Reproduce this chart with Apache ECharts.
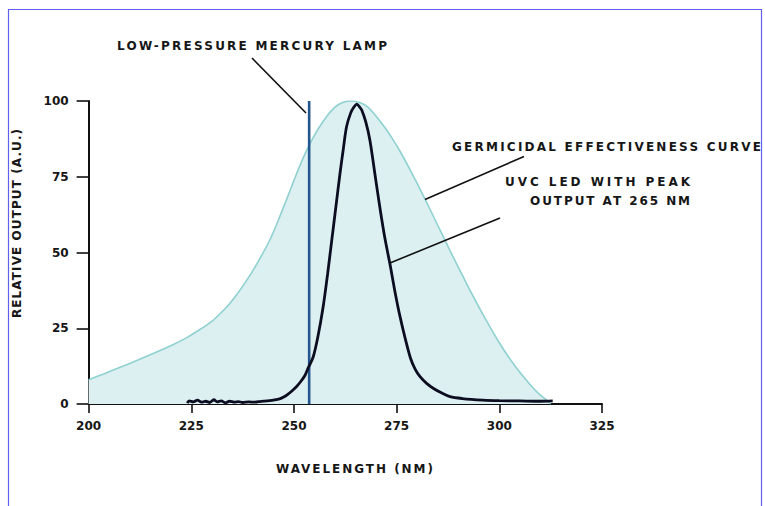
<!DOCTYPE html>
<html>
<head>
<meta charset="utf-8">
<script src="https://cdn.jsdelivr.net/npm/echarts@6/dist/echarts.min.js"></script>
<style>
  html, body { margin: 0; padding: 0; background: #fff; }
  #chart { width: 765px; height: 506px; }
</style>
</head>
<body>
<div id="chart"></div>
<script>
// ---- data ----
var xTicks = [200, 225, 250, 275, 300, 325];
var yTicks = [0, 25, 50, 75, 100];

// Germicidal effectiveness curve (wavelength nm, relative output)
var germWavelength = [200, 204, 208, 212, 216, 220, 224, 227, 230, 232, 234, 236, 238, 240, 242, 244, 246, 248, 250, 252, 254, 256, 258, 260, 262, 264, 266, 268, 270, 272, 274, 276, 278, 280, 282, 284, 286, 288, 290, 292, 294, 296, 298, 300, 302, 304, 306, 308, 310, 311.5, 312.5];
var germOutput     = [8, 10.1, 12.3, 14.5, 16.8, 19.2, 22, 24.5, 27.3, 29.8, 32.6, 36, 39.8, 44, 48.7, 53.8, 60, 66.8, 73.8, 80.5, 86.2, 91, 95, 98, 99.6, 100, 99.5, 98, 95, 91.5, 87.5, 83, 78, 72.8, 67.4, 61.8, 56.2, 50.6, 45.2, 39.8, 34.6, 29.6, 24.8, 20.2, 16, 12.2, 8.8, 5.6, 2.9, 1.3, 0];

// UVC LED spectrum, peak output at 265 nm
var ledWavelength = [224, 224.5, 225.5, 226.5, 227.5, 228.5, 229.5, 230.5, 231.3, 232.3, 233.3, 234.3, 235.5, 236.5, 237.5, 239, 240.5, 242, 243.5, 245, 246.5, 247.5, 248.5, 249.5, 250.6, 251.7, 252.7, 253.5, 254.7, 255.8, 257.1, 258.2, 259.2, 260.2, 261.2, 262, 262.8, 263.8, 264.6, 265.3, 266, 266.5, 267.5, 268.5, 269.7, 270.9, 272.1, 273.4, 274.6, 275.8, 277.2, 278.4, 279.5, 280.7, 282.3, 283.9, 286, 288, 291, 296, 300, 305, 310, 313];
var ledOutput     = [0.3, 1.0, 0.7, 1.3, 0.6, 0.9, 0.5, 1.4, 0.7, 1.0, 0.4, 0.9, 0.6, 0.8, 0.5, 0.7, 0.6, 0.9, 1.0, 1.3, 1.7, 2.3, 3.2, 4.3, 5.7, 7.5, 9.5, 12, 15.6, 22, 32, 43, 54, 65, 76, 84, 91.5, 96, 98, 99, 98, 97, 93, 87, 76, 65, 55, 46, 37, 29, 21, 15, 11.5, 9, 6.8, 5.2, 3.6, 2.4, 1.8, 1.3, 1.1, 1.0, 0.9, 1.0];

// Low-pressure mercury lamp emission line
var mercuryWavelength = [253.7, 253.7];
var mercuryOutput = [0, 100];

var labels = {
  mercury: 'LOW-PRESSURE MERCURY LAMP',
  germ: 'GERMICIDAL EFFECTIVENESS CURVE',
  led1: 'UVC LED WITH PEAK',
  led2: 'OUTPUT AT 265 NM',
  yName: 'RELATIVE OUTPUT (A.U.)',
  xName: 'WAVELENGTH (NM)'
};

function zip(a, b) { return a.map(function (v, i) { return [v, b[i]]; }); }

var FONT = "'DejaVu Sans', 'Liberation Sans', sans-serif";
var TXT = '#161616';

var chart = echarts.init(document.getElementById('chart'), null, { renderer: 'svg' });

var textStyleBase = { fill: TXT, fontFamily: FONT, fontWeight: 'bold', fontSize: 12 };

var option = {
  animation: false,
  backgroundColor: '#ffffff',
  grid: { left: 88.6, right: 163, top: 101, bottom: 102 },
  xAxis: {
    type: 'value', min: 200, max: 325, interval: 25,
    axisLine: { show: true, lineStyle: { color: '#111', width: 2 } },
    axisTick: { show: true, length: 9, lineStyle: { color: '#111', width: 1.6 } },
    axisLabel: { color: TXT, fontFamily: FONT, fontWeight: 'bold', fontSize: 12, margin: 16,
      formatter: function (v) { return xTicks.indexOf(v) >= 0 ? String(v) : ''; } },
    splitLine: { show: false }
  },
  yAxis: {
    type: 'value', min: 0, max: 100, interval: 25,
    axisLine: { show: true, lineStyle: { color: '#111', width: 2 } },
    axisTick: { show: true, length: 12, lineStyle: { color: '#111', width: 1.6 } },
    axisLabel: { color: TXT, fontFamily: FONT, fontWeight: 'bold', fontSize: 12, margin: 20,
      formatter: function (v) { return yTicks.indexOf(v) >= 0 ? String(v) : ''; } },
    splitLine: { show: false }
  },
  series: [
    {
      name: 'Germicidal effectiveness', type: 'line', data: zip(germWavelength, germOutput),
      smooth: 0.25, symbol: 'none',
      lineStyle: { color: '#8fd0d0', width: 1.6 },
      areaStyle: { color: '#dcf0f1', opacity: 1 },
      z: 1
    },
    {
      name: 'Mercury lamp', type: 'line', data: zip(mercuryWavelength, mercuryOutput),
      symbol: 'none', lineStyle: { color: '#23558f', width: 2.6 }, z: 3
    },
    {
      name: 'UVC LED', type: 'line', data: zip(ledWavelength, ledOutput),
      smooth: 0.3, symbol: 'none',
      lineStyle: { color: '#0d0d22', width: 2.8 }, z: 4
    }
  ],
  graphic: [
    { type: 'rect', shape: { x: 8.5, y: 9.5, width: 753, height: 520 },
      style: { fill: 'none', stroke: '#5f5ff2', lineWidth: 1.2 }, z: 100, silent: true },
    // leader lines
    { type: 'line', shape: { x1: 252, y1: 58, x2: 306, y2: 113 }, style: { stroke: '#111', lineWidth: 1.6 }, z: 50 },
    { type: 'line', shape: { x1: 524, y1: 156.5, x2: 425, y2: 199.5 }, style: { stroke: '#111', lineWidth: 1.6 }, z: 50 },
    { type: 'line', shape: { x1: 500, y1: 218, x2: 390, y2: 263 }, style: { stroke: '#111', lineWidth: 1.6 }, z: 50 },
    // annotation texts
    { type: 'text', x: 117, y: 46, style: Object.assign({ text: labels.mercury, textAlign: 'left', textVerticalAlign: 'middle' }, textStyleBase), z: 50 },
    { type: 'text', x: 452, y: 146.5, style: Object.assign({ text: labels.germ, textAlign: 'left', textVerticalAlign: 'middle' }, textStyleBase), z: 50 },
    { type: 'text', x: 505, y: 181.5, style: Object.assign({ text: labels.led1, textAlign: 'left', textVerticalAlign: 'middle' }, textStyleBase), z: 50 },
    { type: 'text', x: 530, y: 200.5, style: Object.assign({ text: labels.led2, textAlign: 'left', textVerticalAlign: 'middle' }, textStyleBase), z: 50 },
    { type: 'text', x: 17, y: 318, rotation: Math.PI / 2,
      style: Object.assign({ text: labels.yName, textAlign: 'left', textVerticalAlign: 'middle' }, textStyleBase), z: 50 },
    { type: 'text', x: 276, y: 469, style: Object.assign({ text: labels.xName, textAlign: 'left', textVerticalAlign: 'middle' }, textStyleBase), z: 50 }
  ]
};

chart.setOption(option);

// widen letter spacing of the annotation texts to match the spaced-out lettering
var targetWidths = {};
targetWidths[labels.mercury] = 270;
targetWidths[labels.germ] = 309;
targetWidths[labels.led1] = 185;
targetWidths[labels.led2] = 160;
targetWidths[labels.yName] = 189;
targetWidths[labels.xName] = 157;

function applySpacing() {
  var texts = document.querySelectorAll('#chart text');
  texts.forEach(function (t) {
    var s = t.textContent;
    if (targetWidths[s]) {
      t.style.letterSpacing = '0px';
      var len = t.getComputedTextLength();
      var ls = (targetWidths[s] - len) / (s.length - 1);
      if (ls > 0) t.style.letterSpacing = ls.toFixed(2) + 'px';
    }
  });
}
applySpacing();
chart.on('finished', applySpacing);
</script>
</body>
</html>
